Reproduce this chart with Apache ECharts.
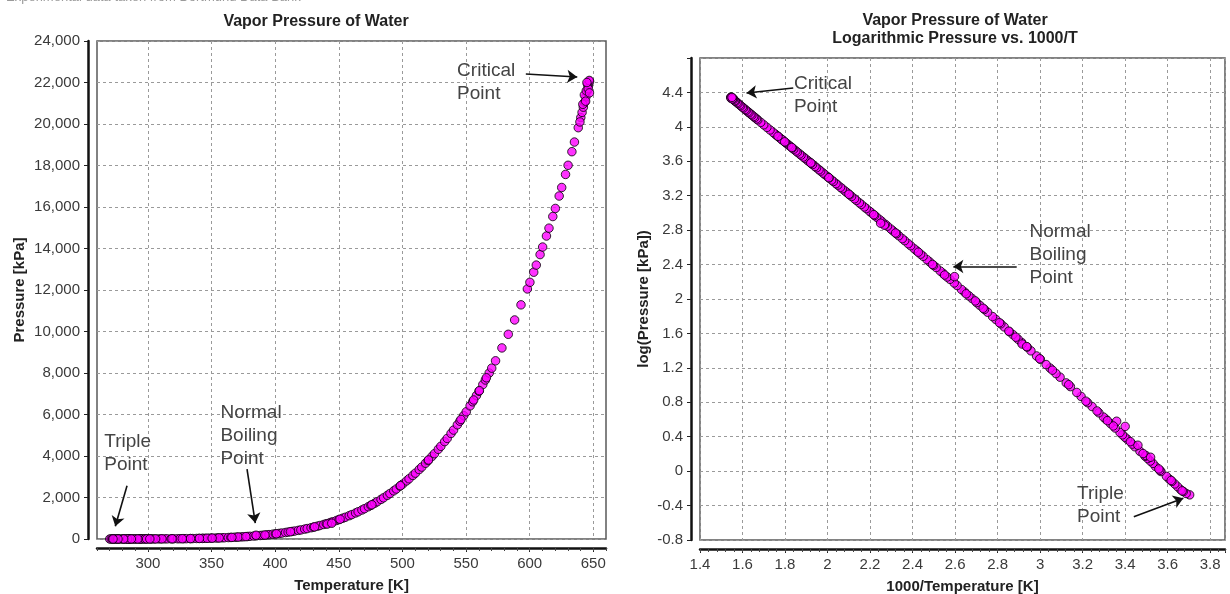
<!DOCTYPE html>
<html>
<head>
<meta charset="utf-8">
<title>Vapor Pressure of Water</title>
<script src="https://cdn.jsdelivr.net/npm/echarts@6/dist/echarts.min.js"></script>
<style>
  html, body { margin: 0; padding: 0; background: #fff; }
  #main { width: 1230px; height: 594px; }
</style>
</head>
<body>
<div id="main"></div>
<script>
// experimental points (T in K, P in kPa), same order in both arrays
const tempK = [
  270.0, 271.2, 272.2, 273.16, 274.2, 275.2, 276.2, 277.2, 278.2, 280.2,
  282.2, 283.2, 284.2, 285.2, 286.2, 288.2, 290.2, 291.2, 293.2, 294.2,
  295.2, 296.2, 298.2, 300.2, 302.2, 303.2, 305.2, 308.2, 310.2, 313.2,
  315.2, 318.2, 320.2, 323.2, 325.2, 328.2, 330.2, 333.2, 335.2, 338.2,
  340.2, 343.2, 345.2, 348.2, 350.2, 353.2, 355.2, 358.2, 360.2, 363.2,
  365.2, 368.2, 370.2, 373.15, 375.2, 378.2, 380.2, 383.2, 385.2, 388.2,
  390.2, 393.2, 395.2, 398.2, 400.2, 403.2, 405.2, 408.2, 410.2, 413.2,
  415.2, 418.2, 420.2, 423.2, 425.2, 428.2, 430.2, 433.2, 435.2, 438.2,
  440.2, 443.2, 445.2, 448.2, 450.2, 453.2, 455.2, 458.2, 460.2, 463.2,
  465.2, 468.2, 470.2, 473.2, 475.2, 478.2, 480.2, 483.2, 485.2, 488.2,
  490.2, 493.2, 495.2, 498.2, 500.2, 503.2, 505.2, 508.2, 510.2, 513.2,
  515.2, 518.2, 520.2, 523.2, 525.2, 528.2, 530.2, 533.2, 535.2, 538.2,
  540.2, 543.2, 545.2, 548.2, 550.2, 553.2, 555.2, 558.2, 560.2, 563.2,
  565.2, 568.2, 570.2, 573.2, 578.2, 583.2, 588.2, 593.2, 598.2, 600.2,
  603.2, 605.2, 608.2, 610.2, 613.2, 615.2, 618.2, 620.2, 623.2, 625.2,
  628.2, 630.2, 633.2, 635.2, 638.2, 640.2, 641.2, 642.2, 643.2, 644.2,
  645.2, 646.2, 647.1, 280.6, 285.9, 289.0, 294.1, 297.6, 284.1, 299.0,
  343.0, 346.5, 371.0, 385.0, 441.0, 444.5, 639.5, 641.8, 643.0, 644.5,
  645.5, 646.0, 646.8, 647.0, 644.0, 645.0, 560.5, 566.0, 556.0, 546.0,
  520.5, 498.5, 476.0, 451.0, 431.0, 412.0, 401.0, 392.0, 377.0, 366.0,
  356.0, 350.5, 340.5, 333.5, 327.0, 319.0, 311.0, 306.0, 301.5, 292.0,
  287.0, 281.0, 276.5, 272.6
];
const pressureKPa = [
  0.53, 0.55, 0.58, 0.611, 0.66, 0.71, 0.76, 0.81, 0.87, 0.99,
  1.13, 1.23, 1.31, 1.40, 1.49, 1.70, 1.92, 2.06, 2.34, 2.48,
  2.64, 2.81, 3.17, 3.57, 4.01, 4.25, 4.76, 5.63, 6.24, 7.38,
  8.21, 9.59, 10.6, 12.35, 13.6, 15.76, 17.3, 19.95, 21.8, 25.0,
  27.6, 31.2, 34.0, 38.6, 41.7, 47.4, 51.5, 57.9, 62.5, 70.2,
  75.6, 84.6, 90.9, 101.3, 108.8, 120.9, 129.0, 143.4, 153.6, 169.2,
  180.0, 198.7, 211.3, 232.2, 246.2, 270.3, 286.4, 313.2, 331.8, 361.5,
  382.3, 415.7, 438.9, 476.2, 502.4, 543.5, 572.6, 618.2, 650.4, 700.9,
  736.8, 792.2, 831.8, 892.6, 935.9, 1002.8, 1049.6, 1123.5, 1174.6, 1255.2,
  1310.5, 1398.8, 1459.6, 1554.9, 1620.5, 1724.3, 1795.6, 1907.7, 1984.6, 2105.9,
  2189.2, 2319.6, 2409.1, 2549.7, 2646.0, 2797.1, 2900.7, 3062.5, 3173.2, 3346.9,
  3465.6, 3651.2, 3778.0, 3976.2, 4111.3, 4322.9, 4466.5, 4692.3, 4845.6, 5085.3,
  5248.8, 5503.0, 5676.4, 5946.4, 6131.0, 6416.6, 6612.0, 6914.6, 7121.0, 7441.8,
  7662, 7999, 8233, 8588, 9209, 9865, 10556, 11284, 12051, 12370,
  12858, 13200, 13707, 14070, 14601, 14980, 15541, 15930, 16529, 16940,
  17570, 18010, 18666, 19130, 19822, 20310, 20560, 20810, 21044, 21310,
  21570, 21830, 22064, 1.02, 1.52, 2.00, 3.31, 3.80, 1.45, 3.35,
  30.0, 36.0, 95.0, 182, 720, 760, 20100, 20950, 21400, 21600,
  21900, 21700, 22100, 21500, 21100, 22000, 7150, 7770, 6700, 5760,
  3810, 2570, 1650, 955, 585, 350, 252, 190, 115, 78,
  53, 42.3, 28.0, 20.2, 14.9, 10.1, 6.5, 5.0, 3.86, 2.20,
  1.60, 1.06, 0.78, 0.59
];

// tick labels of the left temperature axis
const leftXTicks = [300, 350, 400, 450, 500, 550, 600, 650];

// annotations: text anchor (left edge, middle) and arrow [from, to], in data units
const leftNotes = [
  { text: 'Critical\nPoint', at: [543, 22020] },
  { text: 'Triple\nPoint', at: [265.7, 4140] },
  { text: 'Normal\nBoiling\nPoint', at: [357, 4975] }
];
const leftArrows = [
  [[597, 22410], [637.4, 22265]],
  [[283.6, 2570], [274.4, 610]],
  [[377.9, 3370], [384.4, 770]]
];
const rightNotes = [
  { text: 'Critical\nPoint', at: [1.842, 4.37] },
  { text: 'Normal\nBoiling\nPoint', at: [2.95, 2.51] },
  { text: 'Triple\nPoint', at: [3.174, -0.40] }
];
const rightArrows = [
  [[1.8386, 4.452], [1.6188, 4.394]],
  [[2.890, 2.378], [2.592, 2.378]],
  [[3.441, -0.529], [3.674, -0.315]]
];

const FONT = 'Arial, "Liberation Sans", sans-serif';
const chart = echarts.init(document.getElementById('main'));

const leftPoints = tempK.map((t, i) => [t, pressureKPa[i]]);
// right plot: the same measurements as 1000/T against log10(P)
const rightPoints = tempK.map((t, i) => [1000 / t, Math.log10(pressureKPa[i])]);

function onStep(v, step) {
  const k = v / step;
  return Math.abs(k - Math.round(k)) < 1e-6;
}

function notePoints(notes) {
  return notes.map(n => ({ coord: n.at, value: n.text }));
}
function arrowLines(arrows) {
  return arrows.map(a => [{ coord: a[0] }, { coord: a[1] }]);
}

const labelStyle = { color: '#3a3a3a', fontSize: 15, fontFamily: FONT };
const nameStyle = { color: '#222', fontSize: 15, fontWeight: 'bold', fontFamily: FONT };
const axisLine = { show: true, onZero: false, lineStyle: { color: '#111', width: 2.5 } };
const gridLine = { show: true, lineStyle: { color: '#9a9a9a', type: [3, 3], width: 1 } };
const tick = { show: true, length: 4, lineStyle: { color: '#222', width: 1 } };
const minorTick = { show: true, length: 3, lineStyle: { color: '#444' } };

const markerStyle = { color: '#ff00ff', borderColor: '#000', borderWidth: 1 };
const noteLabel = {
  show: true, position: 'right', distance: 0, formatter: p => p.value,
  color: '#444', fontSize: 19, lineHeight: 23, fontFamily: FONT, align: 'left', verticalAlign: 'middle'
};
const arrowStyle = {
  silent: true, symbol: ['none', 'arrow'], symbolSize: 10,
  lineStyle: { color: '#111', width: 1.6, type: 'solid' },
  itemStyle: { color: '#111' }, label: { show: false }
};

const option = {
  animation: false,
  backgroundColor: '#fff',
  title: [
    {
      text: 'Vapor Pressure of Water', left: 311, top: 9, textAlign: 'center',
      textStyle: { fontSize: 16, fontWeight: 'bold', color: '#222', fontFamily: FONT }
    },
    {
      text: 'Vapor Pressure of Water\nLogarithmic Pressure vs. 1000/T', left: 950, top: 7, textAlign: 'center',
      textStyle: { fontSize: 16, fontWeight: 'bold', color: '#222', fontFamily: FONT, lineHeight: 18 }
    }
  ],
  graphic: [
    {
      type: 'text', left: 6, top: -9, silent: true,
      style: { text: 'Experimental data taken from Dortmund Data Bank', fill: '#9a9a9a', fontSize: 13, fontFamily: FONT }
    }
  ],
  grid: [
    { left: 97, top: 41, width: 509, height: 498, show: true, borderColor: '#5a5a5a', borderWidth: 1.5, outerBoundsMode: 'none' },
    { left: 700, top: 58, width: 525, height: 482, show: true, borderColor: '#5a5a5a', borderWidth: 1.5, outerBoundsMode: 'none' }
  ],
  xAxis: [
    {
      type: 'value', gridIndex: 0, min: 260, max: 660, position: 'bottom', offset: 9,
      name: 'Temperature [K]', nameLocation: 'middle', nameGap: 30, nameTextStyle: nameStyle,
      axisLine: axisLine, axisTick: Object.assign({ customValues: leftXTicks }, tick),
      axisLabel: Object.assign({ customValues: leftXTicks, margin: 8 }, labelStyle),
      splitLine: gridLine
    },
    {
      type: 'value', gridIndex: 0, min: 260, max: 660, interval: 10, position: 'bottom', offset: 9,
      axisLine: { show: false, onZero: false }, axisLabel: { show: false }, splitLine: { show: false },
      axisTick: minorTick
    },
    {
      type: 'value', gridIndex: 1, min: 1.4, max: 3.87, interval: 0.2, position: 'bottom', offset: 9,
      name: '1000/Temperature [K]', nameLocation: 'middle', nameGap: 30, nameTextStyle: nameStyle,
      axisLine: axisLine, axisTick: tick,
      axisLabel: Object.assign({ margin: 8, formatter: v => onStep(v, 0.2) ? String(+v.toFixed(1)) : '' }, labelStyle),
      splitLine: gridLine
    },
    {
      type: 'value', gridIndex: 1, min: 1.4, max: 3.87, interval: 0.04, position: 'bottom', offset: 9,
      axisLine: { show: false, onZero: false }, axisLabel: { show: false }, splitLine: { show: false },
      axisTick: minorTick
    }
  ],
  yAxis: [
    {
      type: 'value', gridIndex: 0, min: 0, max: 24000, interval: 2000, position: 'left', offset: 9,
      name: 'Pressure [kPa]', nameLocation: 'middle', nameGap: 61, nameTextStyle: nameStyle,
      axisLine: axisLine, axisTick: tick,
      axisLabel: Object.assign({ margin: 8, formatter: v => v.toLocaleString('en-US') }, labelStyle),
      splitLine: gridLine
    },
    {
      type: 'value', gridIndex: 1, min: -0.8, max: 4.8, interval: 0.4, position: 'left', offset: 9,
      name: 'log(Pressure [kPa])', nameLocation: 'middle', nameGap: 40, nameTextStyle: nameStyle,
      axisLine: axisLine, axisTick: tick,
      // the top tick (4.8) is left unlabelled in the original
      axisLabel: Object.assign({ margin: 8, formatter: v => (v < 4.7 && onStep(v, 0.4)) ? String(+v.toFixed(1)) : '' }, labelStyle),
      splitLine: gridLine
    }
  ],
  series: [
    {
      name: 'P vs T', type: 'scatter', xAxisIndex: 0, yAxisIndex: 0,
      data: leftPoints, symbol: 'circle', symbolSize: 8.5, itemStyle: markerStyle,
      markPoint: { silent: true, symbol: 'circle', symbolSize: 0, label: noteLabel, data: notePoints(leftNotes) },
      markLine: Object.assign({ data: arrowLines(leftArrows) }, arrowStyle)
    },
    {
      name: 'log P vs 1000/T', type: 'scatter', xAxisIndex: 2, yAxisIndex: 1,
      data: rightPoints, symbol: 'circle', symbolSize: 8.5, itemStyle: markerStyle,
      markPoint: { silent: true, symbol: 'circle', symbolSize: 0, label: noteLabel, data: notePoints(rightNotes) },
      markLine: Object.assign({ data: arrowLines(rightArrows) }, arrowStyle)
    }
  ]
};

chart.setOption(option);
</script>
</body>
</html>
